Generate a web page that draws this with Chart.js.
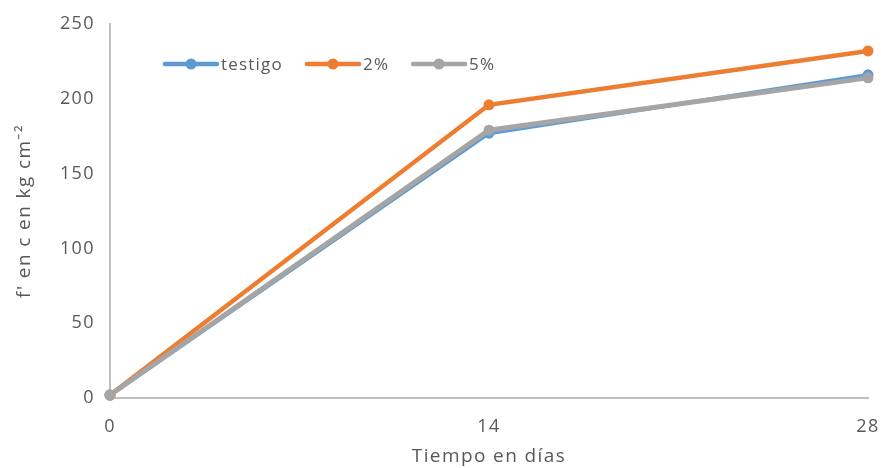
<!DOCTYPE html>
<html>
<head>
<meta charset="utf-8">
<script src="https://cdn.jsdelivr.net/npm/chart.js@4"></script>
<style>
  html, body { margin: 0; padding: 0; background: #fff; }
  #wrap { width: 881px; height: 468px; }
</style>
</head>
<body>
<div id="wrap"><canvas id="myChart"></canvas></div>
<script>
// days of curing
const dias = [0, 14, 28];
// f'c in kg/cm2
const testigo = [2, 177, 216];
const dos = [2, 196, 232];
const cinco = [2, 179, 214];
const yTicks = [0, 50, 100, 150, 200, 250];

const seriesNames = ['testigo', '2%', '5%'];
const seriesColors = ['#5b9bd5', '#ed7d31', '#a5a5a5'];

const font = "'Open Sans', sans-serif";
const textColor = '#595959';
const axisColor = '#bfbfbf';
const spacing = '1.4px';

function toPoints(vals) {
    return dias.map((d, i) => ({x: d, y: vals[i]}));
}

// wider text like the original, canvas state is reset on resize so set it each time
const letterSpacing = {
    id: 'letterSpacing',
    beforeLayout(chart) { chart.ctx.letterSpacing = spacing; },
    beforeDraw(chart) { chart.ctx.letterSpacing = spacing; }
};

// legend drawn inside the plot, line + marker like excel
const insideLegend = {
    id: 'insideLegend',
    afterDraw(chart) {
        const ctx = chart.ctx;
        const starts = [165, 307, 413];
        const y = 64;
        ctx.save();
        seriesNames.forEach((name, i) => {
            const x = starts[i];
            ctx.strokeStyle = seriesColors[i];
            ctx.lineWidth = 4.5;
            ctx.lineCap = 'round';
            ctx.beginPath();
            ctx.moveTo(x, y);
            ctx.lineTo(x + 52, y);
            ctx.stroke();
            ctx.fillStyle = seriesColors[i];
            ctx.beginPath();
            ctx.arc(x + 26, y, 5.5, 0, Math.PI * 2);
            ctx.fill();
            ctx.fillStyle = textColor;
            ctx.font = '17px ' + font;
            ctx.letterSpacing = '1.2px';
            ctx.textBaseline = 'middle';
            ctx.textAlign = 'left';
            ctx.fillText(name, x + 56, y + 1);
        });
        ctx.restore();
    }
};

new Chart(document.getElementById('myChart'), {
    type: 'line',
    data: {
        datasets: [{
            label: seriesNames[0],
            data: toPoints(testigo),
            borderColor: seriesColors[0],
            backgroundColor: seriesColors[0],
            borderWidth: 4,
            order: 2
        }, {
            label: seriesNames[1],
            data: toPoints(dos),
            borderColor: seriesColors[1],
            backgroundColor: seriesColors[1],
            borderWidth: 4.5,
            order: 1
        }, {
            label: seriesNames[2],
            data: toPoints(cinco),
            borderColor: seriesColors[2],
            backgroundColor: seriesColors[2],
            borderWidth: 5,
            order: 0
        }]
    },
    options: {
        responsive: true,
        maintainAspectRatio: false,
        animation: false,
        datasets: {
            line: {
                tension: 0,
                pointRadius: 5.5,
                pointBorderWidth: 0,
                clip: false
            }
        },
        layout: {
            padding: {top: 24, right: 13, left: 0, bottom: 0}
        },
        plugins: {
            legend: {display: false},
            tooltip: {enabled: false}
        },
        scales: {
            x: {
                type: 'linear',
                min: 0,
                max: 28,
                afterBuildTicks: (scale) => {
                    scale.ticks = dias.map(v => ({value: v}));
                },
                afterFit: (scale) => {
                    scale.height = 70;
                    scale.paddingLeft = 0;
                    scale.paddingRight = 0;
                },
                grid: {display: false, drawTicks: false},
                border: {display: true, color: axisColor, width: 2},
                ticks: {
                    color: textColor,
                    font: {family: font, size: 18},
                    padding: 18,
                    maxRotation: 0
                },
                title: {
                    display: true,
                    text: 'Tiempo en días',
                    color: textColor,
                    font: {family: font, size: 19},
                    padding: {top: 0, bottom: 0}
                }
            },
            y: {
                min: 0,
                max: 250,
                afterBuildTicks: (scale) => {
                    scale.ticks = yTicks.map(v => ({value: v}));
                },
                afterFit: (scale) => {
                    scale.width = 110;
                    scale.paddingTop = 0;
                    scale.paddingBottom = 0;
                },
                grid: {display: false, drawTicks: false},
                border: {display: true, color: axisColor, width: 2},
                ticks: {
                    color: textColor,
                    font: {family: font, size: 18},
                    padding: 15
                },
                title: {
                    display: true,
                    text: "f' en c en kg cm⁻²",
                    color: textColor,
                    font: {family: font, size: 19},
                    padding: {top: 13, bottom: 0}
                }
            }
        }
    },
    plugins: [letterSpacing, insideLegend]
});
</script>
</body>
</html>
